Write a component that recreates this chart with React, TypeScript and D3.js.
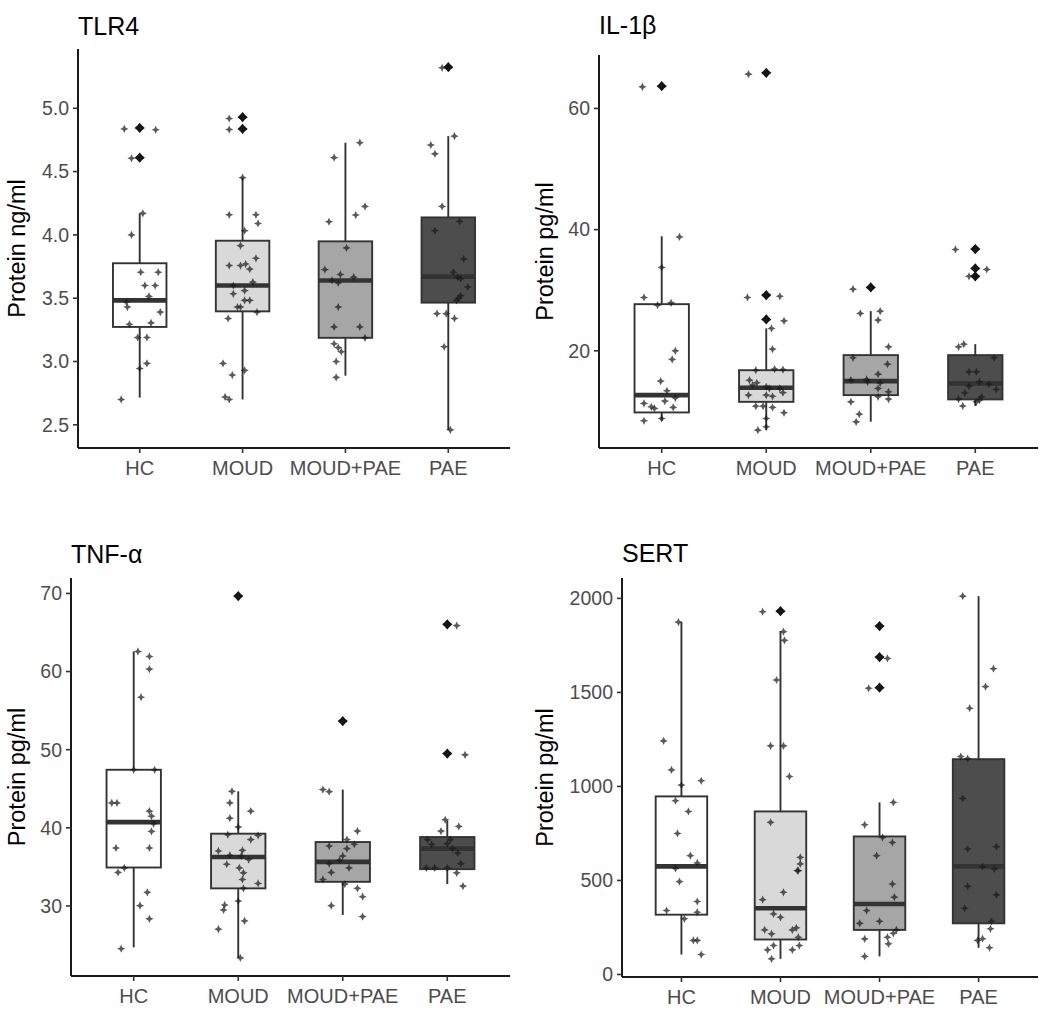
import React from "react";
import * as d3 from "d3";

const categories = ["HC", "MOUD", "MOUD+PAE", "PAE"];

// box stats per category: [lowerWhisker, q1, median, q3, upperWhisker]
const tlr4Boxes = [
  [2.715, 3.273, 3.483, 3.776, 4.17],
  [2.7, 3.396, 3.6, 3.954, 4.452],
  [2.888, 3.187, 3.64, 3.949, 4.728],
  [2.46, 3.465, 3.67, 4.138, 4.78],
];
// outliers: [categoryIndex, value]
const tlr4Outliers = [[0, 4.845], [0, 4.61], [1, 4.93], [1, 4.837], [3, 5.325]];
// points: [categoryIndex, value, jitter]
const tlr4Points = [
  [0, 4.837, -0.15], [0, 4.845, 0.0], [0, 4.83, 0.155], [0, 4.605, -0.08], [0, 4.61, -0.01], [0, 4.17, 0.03], [0, 4.0, -0.08],
  [0, 3.705, 0.01], [0, 3.705, 0.18], [0, 3.6, 0.05], [0, 3.6, 0.15], [0, 3.514, 0.09], [0, 3.47, -0.13], [0, 3.43, -0.12],
  [0, 3.39, 0.2], [0, 3.294, -0.1], [0, 3.305, 0.11], [0, 3.19, -0.02], [0, 3.19, 0.07], [0, 2.985, 0.07], [0, 2.945, 0.0], [0, 2.7, -0.18],
  [1, 4.919, -0.13], [1, 4.93, 0.0], [1, 4.832, -0.13], [1, 4.837, 0.0], [1, 4.452, 0.0], [1, 4.159, -0.13], [1, 4.159, 0.13],
  [1, 4.09, 0.15], [1, 4.033, 0.02], [1, 3.915, -0.02], [1, 3.758, -0.13], [1, 3.758, -0.02], [1, 3.77, 0.03], [1, 3.815, 0.13],
  [1, 3.73, 0.07], [1, 3.627, 0.1], [1, 3.6, -0.09], [1, 3.535, -0.09], [1, 3.56, 0.02], [1, 3.483, 0.02], [1, 3.483, 0.07],
  [1, 3.43, -0.05], [1, 3.43, -0.02], [1, 3.39, 0.14], [1, 3.34, -0.14], [1, 2.985, -0.19], [1, 2.893, -0.1], [1, 2.93, 0.02],
  [1, 2.72, -0.17], [1, 2.7, -0.13],
  [2, 4.728, 0.14], [2, 4.61, -0.11], [2, 4.225, 0.19], [2, 4.157, 0.1], [2, 4.104, -0.16], [2, 3.897, 0.01], [2, 3.726, -0.2],
  [2, 3.687, -0.05], [2, 3.666, 0.08], [2, 3.64, -0.13], [2, 3.62, -0.07], [2, 3.43, -0.07], [2, 3.273, -0.11], [2, 3.273, 0.14],
  [2, 3.187, 0.19], [2, 3.14, -0.11], [2, 3.11, -0.07], [2, 3.077, -0.04], [2, 3.0, -0.09], [2, 2.875, -0.09],
  [3, 5.32, -0.06], [3, 4.78, 0.06], [3, 4.71, -0.17], [3, 4.64, -0.13], [3, 4.225, -0.06], [3, 4.107, 0.11], [3, 4.033, -0.13],
  [3, 3.81, 0.15], [3, 3.705, 0.05], [3, 3.666, 0.09], [3, 3.653, 0.12], [3, 3.588, 0.19], [3, 3.52, 0.12], [3, 3.5, 0.1],
  [3, 3.483, 0.08], [3, 3.378, -0.11], [3, 3.378, -0.02], [3, 3.34, 0.06], [3, 3.116, -0.04], [3, 2.46, 0.02],
];
const tlr4Ticks = [2.5, 3.0, 3.5, 4.0, 4.5, 5.0];

const il1bBoxes = [
  [8.45, 9.83, 12.69, 27.7, 38.9],
  [6.91, 11.58, 13.9, 16.8, 23.7],
  [8.3, 12.69, 15.0, 19.29, 26.55],
  [10.9, 11.98, 14.6, 19.29, 21.1],
];
const il1bOutliers = [[0, 63.68], [1, 65.87], [1, 29.2], [1, 25.18], [2, 30.46], [3, 36.8], [3, 33.6], [3, 32.3]];
const il1bPoints = [
  [0, 63.56, -0.185], [0, 63.68, 0.0], [0, 38.8, 0.17], [0, 33.76, 0.0], [0, 28.8, -0.17], [0, 27.54, -0.04], [0, 27.92, 0.09],
  [0, 20.0, 0.13], [0, 18.58, 0.1], [0, 15.0, -0.01], [0, 13.4, 0.05], [0, 11.32, -0.17], [0, 11.7, 0.03], [0, 12.24, 0.13],
  [0, 10.66, 0.11], [0, 10.76, -0.1], [0, 10.5, -0.07], [0, 8.84, 0.0], [0, 8.45, -0.17],
  [1, 65.66, -0.17], [1, 65.87, 0.0], [1, 28.8, -0.18], [1, 29.0, 0.0], [1, 29.0, 0.13], [1, 25.18, 0.0], [1, 24.95, 0.17],
  [1, 23.7, 0.05], [1, 20.28, 0.06], [1, 16.8, -0.1], [1, 16.98, 0.08], [1, 16.9, 0.16], [1, 15.16, -0.16], [1, 14.72, -0.09],
  [1, 14.34, -0.13], [1, 14.06, 0.0], [1, 13.8, 0.03], [1, 13.8, 0.13], [1, 13.1, 0.16], [1, 12.69, -0.17], [1, 12.69, 0.0],
  [1, 12.5, 0.06], [1, 10.87, -0.1], [1, 10.87, -0.03], [1, 10.66, 0.06], [1, 9.77, 0.17], [1, 8.84, 0.0], [1, 7.46, 0.0], [1, 6.91, -0.08],
  [2, 30.18, -0.17], [2, 30.46, 0.0], [2, 26.17, -0.1], [2, 26.55, 0.09], [2, 25.07, 0.07], [2, 20.66, 0.17], [2, 18.85, -0.17],
  [2, 17.8, 0.16], [2, 16.15, 0.07], [2, 15.16, -0.19], [2, 15.28, -0.04], [2, 14.88, -0.03], [2, 14.7, 0.09], [2, 13.8, 0.07],
  [2, 13.23, 0.17], [2, 12.41, 0.07], [2, 12.03, 0.17], [2, 11.58, -0.19], [2, 9.55, -0.11], [2, 8.28, -0.14],
  [3, 36.73, -0.19], [3, 36.8, 0.0], [3, 33.6, 0.0], [3, 33.43, 0.11], [3, 32.3, -0.06], [3, 20.66, -0.16], [3, 21.1, -0.11],
  [3, 18.85, 0.18], [3, 16.53, -0.06], [3, 16.53, 0.01], [3, 14.88, 0.04], [3, 14.5, 0.13], [3, 14.17, -0.06], [3, 13.63, 0.2],
  [3, 13.07, -0.1], [3, 12.41, 0.06], [3, 12.03, -0.16], [3, 11.58, 0.01], [3, 11.86, 0.04], [3, 10.9, -0.12],
];
const il1bTicks = [20, 40, 60];

const tnfBoxes = [
  [24.7, 34.92, 40.73, 47.43, 62.57],
  [23.35, 32.25, 36.27, 39.25, 44.67],
  [28.85, 33.09, 35.64, 38.18, 44.89],
  [32.8, 34.71, 37.34, 38.82, 40.94],
];
const tnfOutliers = [[1, 69.66], [2, 53.66], [3, 66.04], [3, 49.5]];
const tnfPoints = [
  [0, 62.57, 0.04], [0, 61.93, 0.15], [0, 60.32, 0.15], [0, 56.72, 0.07], [0, 47.43, 0.2], [0, 47.43, 0.0], [0, 43.19, -0.21],
  [0, 43.19, -0.16], [0, 42.13, 0.15], [0, 41.49, 0.17], [0, 40.52, 0.19], [0, 39.54, 0.17], [0, 37.42, -0.17], [0, 37.42, 0.15],
  [0, 34.87, -0.09], [0, 34.29, -0.15], [0, 31.74, 0.13], [0, 30.04, 0.06], [0, 28.35, 0.15], [0, 24.53, -0.12],
  [1, 69.66, 0.0], [1, 44.67, -0.06], [1, 43.19, -0.08], [1, 42.13, 0.12], [1, 41.24, -0.08], [1, 40.09, 0.0], [1, 39.12, -0.1],
  [1, 39.03, 0.19], [1, 38.49, 0.12], [1, 37.04, -0.19], [1, 37.12, 0.04], [1, 36.49, -0.08], [1, 36.4, 0.03], [1, 35.94, 0.1],
  [1, 35.34, -0.11], [1, 34.87, 0.01], [1, 34.24, 0.05], [1, 33.39, 0.04], [1, 32.88, 0.19], [1, 32.25, 0.05], [1, 30.64, 0.0],
  [1, 30.13, -0.13], [1, 29.49, -0.14], [1, 28.09, 0.06], [1, 27.03, -0.19], [1, 23.35, 0.02],
  [2, 53.66, 0.0], [2, 44.89, -0.19], [2, 44.63, -0.13], [2, 39.58, 0.14], [2, 38.49, 0.04], [2, 37.89, 0.11], [2, 37.67, -0.13],
  [2, 37.34, 0.04], [2, 36.4, 0.0], [2, 35.85, -0.03], [2, 35.42, -0.13], [2, 34.87, 0.06], [2, 34.29, -0.11], [2, 33.39, -0.19],
  [2, 32.8, 0.02], [2, 32.25, 0.14], [2, 31.18, 0.19], [2, 30.04, -0.11], [2, 28.64, 0.19],
  [3, 66.04, 0.0], [3, 65.88, 0.09], [3, 49.5, 0.0], [3, 49.34, 0.17], [3, 41.03, -0.02], [3, 40.18, 0.11], [3, 39.58, -0.06],
  [3, 38.49, -0.19], [3, 37.89, -0.15], [3, 37.98, 0.0], [3, 38.49, 0.03], [3, 37.34, 0.05], [3, 36.78, 0.1], [3, 35.42, 0.13],
  [3, 34.87, -0.2], [3, 34.87, -0.12], [3, 34.87, 0.0], [3, 34.24, 0.09], [3, 32.54, 0.15],
];
const tnfTicks = [30, 40, 50, 60, 70];

const sertBoxes = [
  [106, 318, 575, 947, 1874],
  [83, 186, 352, 867, 1826],
  [96, 237, 375, 734, 915],
  [142, 272, 575, 1145, 2012],
];
const sertOutliers = [[1, 1932], [2, 1853], [2, 1688], [2, 1525]];
const sertPoints = [
  [0, 1874, -0.03], [0, 1242, -0.18], [0, 1088, -0.1], [0, 1007, 0.0], [0, 1030, 0.2], [0, 924, -0.06], [0, 867, 0.07],
  [0, 750, -0.04], [0, 632, 0.09], [0, 593, 0.16], [0, 564, -0.06], [0, 494, -0.02], [0, 388, 0.16], [0, 340, -0.15],
  [0, 331, 0.16], [0, 296, 0.03], [0, 181, 0.12], [0, 181, 0.16], [0, 106, 0.2],
  [1, 1929, -0.18], [1, 1932, 0.0], [1, 1823, 0.03], [1, 1777, 0.04], [1, 1566, -0.04], [1, 1216, -0.1], [1, 1216, 0.03],
  [1, 1053, 0.09], [1, 809, -0.1], [1, 623, 0.2], [1, 588, 0.2], [1, 552, 0.17], [1, 552, 0.18], [1, 437, 0.03],
  [1, 398, -0.18], [1, 322, -0.07], [1, 304, 0.0], [1, 237, -0.16], [1, 216, -0.09], [1, 237, 0.12], [1, 248, 0.16],
  [1, 198, 0.18], [1, 154, -0.07], [1, 131, -0.13], [1, 131, 0.12], [1, 154, 0.19], [1, 83, -0.09],
  [2, 1853, 0.0], [2, 1688, 0.0], [2, 1681, 0.08], [2, 1525, 0.0], [2, 1522, -0.11], [2, 915, 0.14], [2, 796, -0.15],
  [2, 729, 0.03], [2, 702, 0.13], [2, 632, -0.03], [2, 481, 0.13], [2, 411, 0.15], [2, 340, -0.13], [2, 272, -0.2],
  [2, 283, 0.0], [2, 237, 0.17], [2, 219, 0.14], [2, 198, 0.08], [2, 189, -0.15], [2, 163, 0.09], [2, 96, -0.15],
  [3, 2012, -0.16], [3, 1626, 0.15], [3, 1531, 0.07], [3, 1416, -0.09], [3, 1159, -0.18], [3, 1148, -0.11], [3, 936, -0.16],
  [3, 667, -0.11], [3, 680, 0.18], [3, 573, 0.04], [3, 561, 0.16], [3, 469, -0.11], [3, 423, 0.18], [3, 352, -0.14],
  [3, 283, 0.13], [3, 243, 0.12], [3, 181, -0.01], [3, 190, 0.04], [3, 142, 0.11],
];
const sertTicks = [0, 500, 1000, 1500, 2000];

// ---- styles / layout ----
const boxFills = ["#ffffff", "#d9d9d9", "#a6a6a6", "#4d4d4d"];
const FONT = "'Liberation Sans', Arial, sans-serif";

const panels = [
  { title: "TLR4", ylab: "Protein ng/ml", boxes: tlr4Boxes, outliers: tlr4Outliers, points: tlr4Points, ticks: tlr4Ticks, fmt: d3.format(".1f"),
    layout: { left: 78, right: 510, top: 49, bottom: 448, titleY: 35, ylabX: 25 } },
  { title: "IL-1β", ylab: "Protein pg/ml", boxes: il1bBoxes, outliers: il1bOutliers, points: il1bPoints, ticks: il1bTicks, fmt: d3.format("d"),
    layout: { left: 599, right: 1038, top: 55, bottom: 448, titleY: 34, ylabX: 553 } },
  { title: "TNF-α", ylab: "Protein pg/ml", boxes: tnfBoxes, outliers: tnfOutliers, points: tnfPoints, ticks: tnfTicks, fmt: d3.format("d"),
    layout: { left: 71, right: 510, top: 578, bottom: 976, titleY: 563, ylabX: 25 } },
  { title: "SERT", ylab: "Protein pg/ml", boxes: sertBoxes, outliers: sertOutliers, points: sertPoints, ticks: sertTicks, fmt: d3.format("d"),
    layout: { left: 622, right: 1038, top: 578, bottom: 977, titleY: 562, ylabX: 553 } },
];

function star4(inner: number) {
  return {
    draw(ctx: any, size: number) {
      const r = Math.sqrt(size) / 2;
      const ri = r * inner;
      for (let i = 0; i < 8; i++) {
        const a = (i * Math.PI) / 4 - Math.PI / 2;
        const rr = i % 2 === 0 ? r : ri;
        const px = Math.cos(a) * rr;
        const py = Math.sin(a) * rr;
        if (i === 0) ctx.moveTo(px, py);
        else ctx.lineTo(px, py);
      }
      ctx.closePath();
    },
  };
}

const pointPath = d3.symbol().type(star4(0.45) as any).size(68)();
const outlierPath = d3.symbol().type(star4(0.66) as any).size(105)();

function Panel({ p }: { p: any }) {
  const L = p.layout;
  const x = d3.scalePoint().domain(categories).range([L.left, L.right]).padding(0.6);
  const step = x.step();
  const allVals: number[] = [
    ...p.boxes.flat(),
    ...p.outliers.map((o: number[]) => o[1]),
    ...p.points.map((o: number[]) => o[1]),
  ];
  const [mn, mx] = d3.extent(allVals) as [number, number];
  const pad = (mx - mn) * 0.05;
  const y = d3.scaleLinear().domain([mn - pad, mx + pad]).range([L.bottom, L.top]);
  const bw = step * 0.52;
  const stroke = "#333333";

  return (
    <g>
      <text x={L.left} y={L.titleY} fontFamily={FONT} fontSize={25} fill="#000">{p.title}</text>
      <text
        transform={`translate(${L.ylabX},${(L.top + L.bottom) / 2}) rotate(-90)`}
        textAnchor="middle" fontFamily={FONT} fontSize={23.5} fill="#000">{p.ylab}</text>

      {/* boxplots */}
      {p.boxes.map((b: number[], i: number) => {
        const cx = x(categories[i]) as number;
        const [lo, q1, med, q3, hi] = b;
        return (
          <g key={i}>
            <line x1={cx} x2={cx} y1={y(q3)} y2={y(hi)} stroke={stroke} strokeWidth={1.9} />
            <line x1={cx} x2={cx} y1={y(q1)} y2={y(lo)} stroke={stroke} strokeWidth={1.9} />
            <rect x={cx - bw / 2} y={y(q3)} width={bw} height={y(q1) - y(q3)} fill={boxFills[i]} stroke={stroke} strokeWidth={1.9} />
            <line x1={cx - bw / 2} x2={cx + bw / 2} y1={y(med)} y2={y(med)} stroke={stroke} strokeWidth={4.6} />
          </g>
        );
      })}
      {p.outliers.map((o: number[], k: number) => (
        <path key={"o" + k} d={outlierPath as string}
          transform={`translate(${x(categories[o[0]])},${y(o[1])})`} fill="#111111" />
      ))}
      {p.points.map((o: number[], k: number) => (
        <path key={"p" + k} d={pointPath as string}
          transform={`translate(${(x(categories[o[0]]) as number) + o[2] * step},${y(o[1])})`}
          fill="#1a1a1a" fillOpacity={0.72} />
      ))}

      {/* axes */}
      <line x1={L.left} x2={L.left} y1={L.top} y2={L.bottom} stroke="#1a1a1a" strokeWidth={2} />
      <line x1={L.left} x2={L.right} y1={L.bottom} y2={L.bottom} stroke="#1a1a1a" strokeWidth={2} />
      {p.ticks.map((t: number) => (
        <g key={"yt" + t}>
          <line x1={L.left - 5} x2={L.left} y1={y(t)} y2={y(t)} stroke="#333" strokeWidth={1.6} />
          <text x={L.left - 9} y={y(t)} dy="0.35em" textAnchor="end" fontFamily={FONT} fontSize={19.5} fill="#4d4d4d">{p.fmt(t)}</text>
        </g>
      ))}
      {categories.map((c) => (
        <g key={"xt" + c}>
          <line x1={x(c)} x2={x(c)} y1={L.bottom} y2={L.bottom + 5} stroke="#333" strokeWidth={1.6} />
          <text x={x(c)} y={L.bottom + 27} textAnchor="middle" fontFamily={FONT} fontSize={20} fill="#4d4d4d">{c}</text>
        </g>
      ))}
    </g>
  );
}

export default function App() {
  return (
    <svg width={1050} height={1017} style={{ position: "absolute", left: 0, top: 0, background: "#fff" }}>
      <rect x={0} y={0} width={1050} height={1017} fill="#fff" />
      {panels.map((p, i) => <Panel key={i} p={p} />)}
    </svg>
  );
}
